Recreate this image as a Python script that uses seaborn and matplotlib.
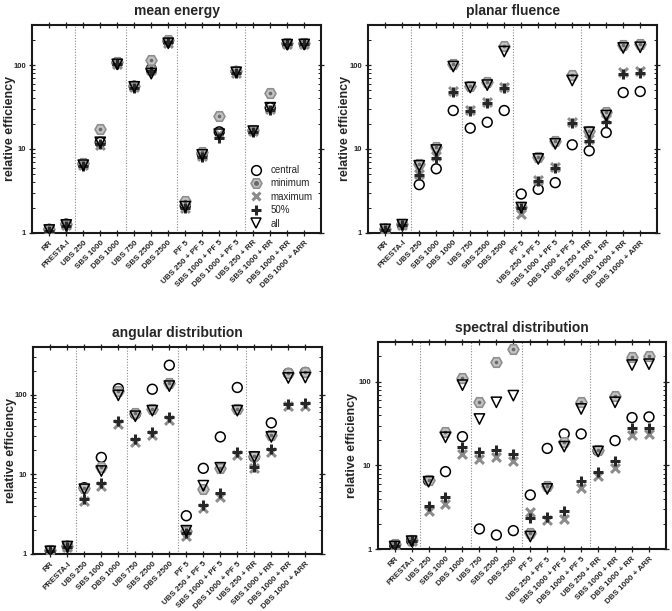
import numpy as np
import matplotlib
matplotlib.use("Agg")
import matplotlib.pyplot as plt
import seaborn as sns
from matplotlib.lines import Line2D
from matplotlib.legend_handler import HandlerTuple
from matplotlib.ticker import LogLocator, NullFormatter

sns.set_style("ticks")
plt.rcParams["font.family"] = ["Liberation Sans", "DejaVu Sans"]

categories = ["RR", "PRESTA-I", "UBS 250", "SBS 1000", "DBS 1000", "UBS 750",
              "SBS 2500", "DBS 2500", "PF 5", "UBS 250 + PF 5", "SBS 1000 + PF 5",
              "DBS 1000 + PF 5", "UBS 250 + RR", "SBS 1000 + RR", "DBS 1000 + RR",
              "DBS 1000 + ARR"]
series = ["central", "minimum", "maximum", "50%", "all"]

# mean energy
me_central = [1.1, 1.27, 6.6, 12.0, 106, 56, 90, 192, 2.1, 8.7, 16.0, 84, 16.5, 31, 180, 180]
me_minimum = [1.1, 1.28, 6.8, 17.3, 110, 57, 116, 200, 2.4, 9.1, 24.8, 85, 17, 47, 182, 182]
me_maximum = [1.08, 1.25, 6.4, 11.2, 103, 55, 88, 185, 2.0, 8.3, 15.0, 81, 16.3, 30, 176, 177]
me_p50 = [1.05, 1.22, 6.2, 11.6, 102, 54, 84, 188, 1.95, 8.0, 13.6, 80, 16.0, 29, 178, 178]
me_all = [1.08, 1.24, 6.4, 12.0, 102, 55, 79, 182, 2.05, 8.5, 15.0, 82, 16.3, 31, 175, 176]

# planar fluence
pf_central = [1.1, 1.25, 3.75, 5.8, 28.7, 17.7, 20.8, 28.7, 2.9, 3.3, 3.96, 11.2, 9.5, 15.7, 47, 48.4]
pf_minimum = [1.12, 1.28, 6.6, 10.5, 104, 56.6, 62.7, 167, 2.05, 7.96, 12.6, 76.6, 16.5, 27.2, 175, 180]
pf_maximum = [1.08, 1.24, 5.0, 8.3, 49, 29, 36, 55, 1.67, 4.3, 6.1, 21, 13, 23, 82, 85]
pf_p50 = [1.08, 1.24, 4.9, 7.9, 47.6, 28.7, 35.2, 53, 1.96, 4.18, 6.0, 20.3, 12.5, 21.2, 78.7, 81]
pf_all = [1.1, 1.25, 6.3, 9.7, 96, 54, 57.7, 145, 2.0, 7.6, 11.5, 65.5, 15.8, 25, 160, 163]

# angular distribution
ad_central = [1.1, 1.25, 6.8, 16.3, 119, 57, 117, 234, 3.02, 11.9, 29.5, 123, 16.5, 44.2, 185, 190]
ad_minimum = [1.12, 1.27, 6.8, 12.2, 112, 59, 65.6, 142, 1.95, 6.5, 12.1, 67, 16.9, 31.6, 189, 192]
ad_maximum = [1.05, 1.22, 4.6, 7.1, 43, 25.5, 31, 48, 1.68, 3.8, 5.2, 17.4, 12, 18.8, 72, 73]
ad_p50 = [1.08, 1.24, 4.9, 7.7, 46.8, 27.6, 34, 52.6, 1.85, 4.1, 5.76, 19.1, 12.2, 20.5, 77, 78]
ad_all = [1.08, 1.24, 6.5, 11, 98, 53.6, 63, 128, 1.96, 7.2, 12.1, 63, 16.5, 29.5, 162, 164]

# spectral distribution
sd_central = [1.12, 1.27, 6.6, 8.45, 22.1, 1.75, 1.48, 1.67, 4.45, 16.0, 23.8, 23.8, 15.0, 19.8, 37.3, 38]
sd_minimum = [1.15, 1.28, 6.7, 25.4, 110, 56.8, 173, 244, 1.55, 5.75, 19.3, 56.8, 15.3, 68.2, 195, 202]
sd_maximum = [1.1, 1.25, 2.9, 3.5, 13.7, 11.9, 12.8, 11.3, 2.81, 2.24, 2.3, 5.35, 7.4, 9.3, 23.1, 23.5]
sd_p50 = [1.1, 1.25, 3.3, 4.25, 16.8, 14.4, 15.3, 13.7, 2.34, 2.45, 2.87, 6.5, 8.3, 11.4, 27.8, 28.3]
sd_all = [1.08, 1.25, 6.4, 21.7, 91, 35.9, 56.8, 68.2, 1.42, 5.25, 16.8, 47.3, 14.7, 56.8, 158, 162]

# (title, data, top of y range, axes rect, ylabel x in axes coords)
panels = [
    ("mean energy", [me_central, me_minimum, me_maximum, me_p50, me_all], 300,
     [0.048, 0.619, 0.430, 0.340], -0.055),
    ("planar fluence", [pf_central, pf_minimum, pf_maximum, pf_p50, pf_all], 300,
     [0.548, 0.619, 0.430, 0.340], -0.060),
    ("angular distribution", [ad_central, ad_minimum, ad_maximum, ad_p50, ad_all], 400,
     [0.0496, 0.0933, 0.430, 0.3393], -0.055),
    ("spectral distribution", [sd_central, sd_minimum, sd_maximum, sd_p50, sd_all], 300,
     [0.562, 0.101, 0.429, 0.3397], -0.068),
]
separators = [1.5, 4.5, 7.5, 11.5]

x = np.arange(len(categories))
grey_fc, grey_ec, dot_c = "#c4c4c4", "#8e8e8e", "#6a6a6a"
max_c, p50_c = "#8c8c8c", "#262626"

fig = plt.figure(figsize=(6.72, 6.11), dpi=100)

for title, vals, ytop, rect, ylab_x in panels:
    ax = fig.add_axes(rect)
    central, minimum, maximum, p50, allv = vals
    for s in separators:
        ax.axvline(s, color="#8a8a8a", lw=0.8, ls=(0, (1, 1.5)), zorder=0)
    sns.scatterplot(x=x, y=central, ax=ax, marker="o", s=50, facecolor="none",
                    edgecolor="black", linewidth=1.1, zorder=3)
    sns.scatterplot(x=x, y=minimum, ax=ax, marker="H", s=62, facecolor=grey_fc,
                    edgecolor=grey_ec, linewidth=1.2, zorder=4)
    sns.scatterplot(x=x, y=minimum, ax=ax, marker="o", s=7, color=dot_c,
                    linewidth=0, zorder=4)
    sns.scatterplot(x=x, y=maximum, ax=ax, marker="x", s=40, color=max_c,
                    linewidth=2.2, zorder=5)
    sns.scatterplot(x=x, y=p50, ax=ax, marker="+", s=55, color=p50_c,
                    linewidth=2.2, zorder=6)
    sns.scatterplot(x=x, y=allv, ax=ax, marker="v", s=55, facecolor="none",
                    edgecolor="black", linewidth=1.1, zorder=7)

    ax.set_yscale("log")
    ax.set_ylim(1, ytop)
    ax.set_xlim(-1, 16)
    ax.set_yticks([1, 10, 100])
    ax.set_yticklabels(["1", "10", "100"], fontsize=5.5, fontweight="bold")
    ax.yaxis.set_minor_locator(LogLocator(base=10, subs=np.arange(2, 10)))
    ax.yaxis.set_minor_formatter(NullFormatter())
    ax.set_xticks(x)
    ax.set_xticklabels(categories, rotation=45, ha="right", rotation_mode="anchor",
                       fontsize=5.8, fontweight="bold")
    ax.tick_params(axis="both", which="major", direction="inout", length=5, width=0.9,
                   top=True, right=True, pad=2, color="#222222")
    ax.tick_params(axis="y", which="minor", direction="in", length=2.5, width=0.7,
                   left=True, right=True, color="#222222")
    for sp in ax.spines.values():
        sp.set_linewidth(1.5)
        sp.set_color("#1a1a1a")
    ax.set_xlabel("")
    ax.set_ylabel("relative efficiency", fontsize=9, fontweight="bold")
    ax.yaxis.set_label_coords(ylab_x, 0.5)
    ax.set_title(title, fontsize=10, fontweight="bold", pad=7)

    if title == "mean energy":
        h_c = Line2D([], [], ls="none", marker="o", ms=7, mfc="none", mec="black", mew=1.1)
        h_min = (Line2D([], [], ls="none", marker="H", ms=7.8, mfc=grey_fc, mec=grey_ec, mew=1.2),
                 Line2D([], [], ls="none", marker="o", ms=2.6, mfc=dot_c, mec=dot_c))
        h_max = Line2D([], [], ls="none", marker="x", ms=6.3, mec=max_c, mew=2.2)
        h_p50 = Line2D([], [], ls="none", marker="+", ms=7.4, mec=p50_c, mew=2.2)
        h_all = Line2D([], [], ls="none", marker="v", ms=7.4, mfc="none", mec="black", mew=1.1)
        ax.legend([h_c, h_min, h_max, h_p50, h_all], series,
                  handler_map={tuple: HandlerTuple(ndivide=1)},
                  loc="upper left", bbox_to_anchor=(0.74, 0.345), frameon=False,
                  fontsize=7, handlelength=1.2, handletextpad=0.9, labelspacing=0.35,
                  borderaxespad=0)

fig.savefig("out.png", dpi=100)
